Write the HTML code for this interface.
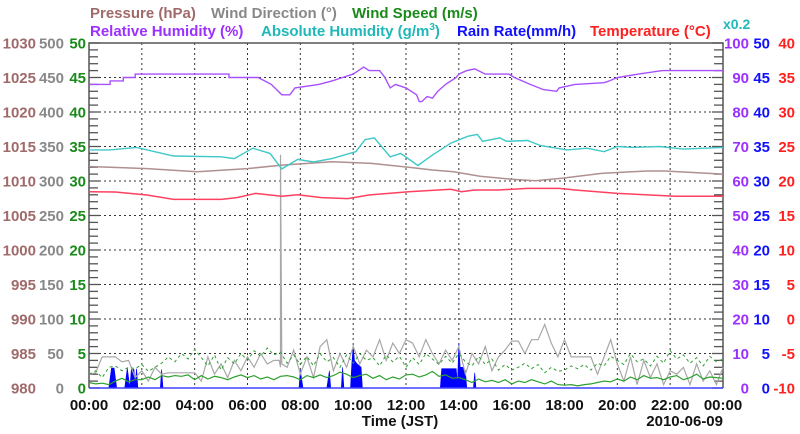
<!DOCTYPE html>
<html><head><meta charset="utf-8"><style>
html,body{margin:0;padding:0;background:#fff;}
svg{display:block;font-family:"Liberation Sans",Arial,sans-serif;font-weight:bold;}
</style></head><body>
<svg id="chart" width="800" height="434" viewBox="0 0 800 434" xmlns="http://www.w3.org/2000/svg">
<g id="legend" font-size="15">
<text x="90" y="18" fill="#a06a6a">Pressure (hPa)</text>
<text x="211" y="18" fill="#888">Wind Direction (°)</text>
<text x="352" y="18" fill="#1a8a1a">Wind Speed (m/s)</text>
<text x="90" y="36" fill="#9b30ff">Relative Humidity (%)</text>
<text x="261" y="36" fill="#20b8b8">Absolute Humidity (g/m<tspan font-size="10" dy="-6">3</tspan><tspan dy="6">)</tspan></text>
<text x="457" y="36" fill="#1010ff">Rain Rate(mm/h)</text>
<text x="590" y="36" fill="#ff2020">Temperature (°C)</text>
<text x="723" y="29" fill="#20b8b8" font-size="14">x0.2</text>
</g>
<g id="grid"></g>
<g id="axes"></g>
<g id="series"></g>
<text x="400" y="426" text-anchor="middle" font-size="15" fill="#111">Time (JST)</text>
<text x="723" y="426" text-anchor="end" font-size="15" fill="#111">2010-06-09</text>
</svg>
<script>
// ---- data ----
const xTickLabels = ["00:00","02:00","04:00","06:00","08:00","10:00","12:00","14:00","16:00","18:00","20:00","22:00","00:00"];
const pressureTicks = ["980","985","990","995","1000","1005","1010","1015","1020","1025","1030"];
const windDirTicks = ["0","50","100","150","200","250","300","350","400","450","500"];
const windSpdTicks = ["0","5","10","15","20","25","30","35","40","45","50"];
const rhTicks = ["0","10","20","30","40","50","60","70","80","90","100"];
const rainTicks = ["0","5","10","15","20","25","30","35","40","45","50"];
const tempTicks = ["-10","-5","0","5","10","15","20","25","30","35","40"];

const rhT = [0,0.8,0.8,1.3,1.3,1.75,1.75,5.3,5.3,6.4,6.9,7.3,7.6,7.8,8.7,9.2,9.6,10,10.4,10.6,11,11.2,11.4,11.6,12,12.4,12.5,12.6,12.8,13,13.2,13.5,13.9,14,14.3,14.6,15,15.9,16.1,16.7,17.2,17.7,17.8,18.4,19.5,19.7,20,20.8,21.7,24];
const rhV = [88,88,89,89,90,90,91,91,90,90,88,85,85,87,88,89,90,91,93,92,92,90,87,88,87,85,83,83,84.5,84,86,88,90,91,92,92.5,91,91,90,88,86.5,86,87,88,88.5,89,90,91,92,92];

const ahT = [0,0.8,1.8,3.2,5,5.5,6.2,6.85,7.3,7.9,8.5,9.2,10.1,10.45,10.8,11.4,11.8,12.45,13,13.7,14.35,14.7,14.9,15.55,15.8,16.6,17.1,18.1,18.85,19.5,20,20.6,21.6,22.5,24];
const ahV = [13.8,13.8,13.95,13.45,13.4,13.3,13.9,13.6,12.7,13.25,13.1,13.3,13.7,14.4,14.5,13.4,13.6,12.9,13.5,14.2,14.6,14.7,14.3,14.5,14.3,14.35,14.05,13.8,13.9,13.7,14.0,13.95,14.0,13.85,13.95];

const prT = [0,2.2,4.1,6,7.3,9.2,10.7,12.1,13,13.8,14.8,16,16.9,17.9,19.4,21.1,21.8,24];
const prV = [1012.1,1011.8,1011.35,1011.8,1012.3,1012.8,1012.55,1012.0,1011.6,1011.35,1010.7,1010.25,1010.05,1010.4,1011.1,1011.45,1011.45,1011.0];

const tpT = [0,1,2.2,3.2,5,5.6,6.3,7.3,7.9,8.8,9.8,10.6,12.1,13.7,14.1,14.6,15.5,16.6,17.8,18.4,20,22.2,24];
const tpV = [18.45,18.4,17.97,17.34,17.34,17.6,18.2,17.8,18.0,17.6,17.45,17.97,18.45,18.8,18.45,18.7,18.7,18.93,18.93,18.7,18.2,17.8,17.8];

// wind direction, 15-min steps
const wdV = [20,22,45,45,45,38,40,15,25,10,30,20,22,22,22,22,22,10,45,20,35,15,40,25,45,30,50,35,40,30,30,55,20,45,15,60,70,25,50,30,60,35,55,45,70,40,65,50,70,65,45,70,50,35,55,40,60,20,50,35,60,25,45,55,68,68,50,70,70,92,65,45,70,45,45,45,45,20,45,70,35,10,45,5,40,15,35,5,25,20,30,5,35,10,25,5,30];
// brief wind direction spike
const wdSpikeT = [7.2,7.25,7.3];
const wdSpikeV = [40,338,35];
// wind gust (dashed), 15-min steps
const wgV = [2,2.5,1.5,3,3.2,2.5,3,2.8,3.4,2.4,3,3.6,4.5,3.8,5,4.2,5.6,4.4,3.2,4.8,2.6,4.4,3.5,5,4,5.4,4.6,5.8,4.8,5.2,3.6,4.8,3.4,4.6,3.2,5,3.8,4.4,3,4.8,3.6,5,4,4.4,3.2,4.8,3.8,4.6,3,4.4,3.4,5,4.2,3.4,4.6,3.6,5,3.8,3.2,4.6,3.4,4.2,2.6,3.4,2.6,3,3.6,2.8,3.4,2.2,3,2.4,2.6,3.2,2.8,3.4,2.6,3.6,3.2,4.6,4,3.4,5,3.8,4.2,3.2,4.6,3.6,5.4,4.2,4.8,3.6,4.4,3.2,4.6,3.8,4.2];
// wind speed mean (solid), 15-min steps
const wsV = [0.8,0.6,0.7,0.5,1,1.4,0.9,1.2,1.2,1.6,1.2,1.8,1.6,1.8,1.7,1.9,1.2,1.8,1.3,1.7,1.5,1.2,1.6,1.9,1.5,1.8,1.3,1.6,1.2,1.7,1.8,1.6,1.2,1.8,1.5,1.9,1.5,1.8,2.3,2.0,1.5,1.8,2.0,1.4,1.8,1.2,1.6,1.3,1.9,2.0,1.6,1.9,2.4,1.7,1.9,1.4,1.5,1.2,0.8,1.3,0.9,1.1,0.8,1.2,0.6,1.0,0.8,1.2,0.9,0.6,1.0,0.5,0.4,0.5,0.3,0.5,0.6,0.8,1.0,0.9,1.3,1.0,1.6,1.2,1.8,1.4,1.5,1.2,1.6,1.8,1.2,1.5,2.0,1.3,1.6,1.5,1.4];

const rainT = [0,0.75,0.85,0.95,1.05,1.35,1.45,1.55,1.6,1.7,1.75,1.8,1.85,2.7,2.75,2.8,7.95,8.0,8.1,9.0,9.1,9.15,9.55,9.6,9.65,9.9,9.95,10.0,10.05,10.15,10.3,10.35,13.3,13.35,13.9,13.95,14.0,14.05,14.15,14.25,14.3,14.55,14.6,14.65,24];
const rainV = [0,0,2.9,2.9,0,0,2.9,0,2.7,2.7,0.8,2.8,0,0,2.7,0,0,2.6,0,0,2.5,0,0,3.0,0,0,3.5,6.2,4.0,3.5,3.0,0,0,2.8,2.8,0.5,6.5,3,3,2.5,0,0,2.2,0,0];

// ---- scales ----
const X0=89, X1=723, Y0=388, Y1=43;
const xs = h => X0 + (X1-X0)*h/24;
const lin = (lo,hi) => v => Y0 - (Y0-Y1)*(v-lo)/(hi-lo);
const yPr = lin(980,1030), yWD = lin(0,500), yWS = lin(0,50), yRH = lin(0,100), yAH = lin(0,20), yRain = lin(0,50), yT = lin(-10,40);
const NS="http://www.w3.org/2000/svg";
function mk(tag, attrs, parent){const e=document.createElementNS(NS,tag);for(const k in attrs)e.setAttribute(k,attrs[k]);parent.appendChild(e);return e;}
const grid=document.getElementById('grid'), axes=document.getElementById('axes'), ser=document.getElementById('series');

for(let i=1;i<12;i++){const l=mk('line',{x1:xs(i*2),x2:xs(i*2),y1:Y1,y2:Y0,stroke:'#333','stroke-width':1,'stroke-dasharray':'2,3'},grid);

}
for(let i=1;i<10;i++){const y=Y0-(Y0-Y1)*i/10;const l=mk('line',{x1:X0,x2:X1,y1:y,y2:y,stroke:'#333','stroke-width':1,'stroke-dasharray':'2,3'},grid);

}
for(let i=0;i<=50;i++){const y=Y0-(Y0-Y1)*i/50;const len=i%5===0?11:9;
const a=mk('line',{x1:X0,x2:X0+len,y1:y,y2:y,stroke:'#555','stroke-width':1.3},axes);


const b=mk('line',{x1:X1-len,x2:X1,y1:y,y2:y,stroke:'#555','stroke-width':1.3},axes);

}
const frame=mk('path',{d:`M${X0},${Y0}V${Y1}H${X1}V${Y0}`,fill:'none',stroke:'#555','stroke-width':1.5},axes);


function col(ticks,x,anchor,color,name){ticks.forEach((t,i)=>{const y=Y0-(Y0-Y1)*i/10+5.5;const e=mk('text',{x:x,y:y,'text-anchor':anchor,fill:color,'font-size':15},axes);e.textContent=t;

});}
col(pressureTicks,36,'end','#a06a6a','pressure-tick-label');
col(windDirTicks,64,'end','#888','wind-direction-tick-label');
col(windSpdTicks,86,'end','#1a8a1a','wind-speed-tick-label');
col(rhTicks,749,'end','#9b30ff','humidity-tick-label');
col(rainTicks,770,'end','#1010ff','rain-tick-label');
col(tempTicks,795,'end','#ff2020','temperature-tick-label');
xTickLabels.forEach((t,i)=>{const e=mk('text',{x:xs(i*2),y:410,'text-anchor':'middle',fill:'#111','font-size':15},axes);e.textContent=t;

});

function line(T,V,ys,stroke,w,name,dash){const d=T.map((t,i)=>(i?'L':'M')+xs(t).toFixed(1)+','+ys(V[i]).toFixed(1)).join('');
const p=mk('path',{d:d,fill:'none',stroke:stroke,'stroke-width':w},ser);if(dash)p.setAttribute('stroke-dasharray',dash);

}
const stepT = wdV.map((_,i)=>i*0.25);
// merge wind direction with spike
const wdPts = stepT.map((t,i)=>[t,wdV[i]]).concat(wdSpikeT.map((t,i)=>[t,wdSpikeV[i]])).sort((a,b)=>a[0]-b[0]);
const wdT2 = wdPts.map(p=>p[0]), wdV2 = wdPts.map(p=>p[1]);
{let d='M'+xs(rainT[0])+','+yRain(0);rainT.forEach((t,i)=>{d+='L'+xs(t).toFixed(1)+','+yRain(rainV[i]).toFixed(1);});d+='L'+xs(24)+','+yRain(0)+'Z';
const p=mk('path',{d:d,fill:'#0000ff',stroke:'#0000ff','stroke-width':0.6},ser);

}
line(wdT2,wdV2,yWD,'#a8a8a8',1.2,'wind-direction-line');
line(stepT,wgV,yWS,'#2ea02e',1,'wind-gust-line','3,3');
line(stepT,wsV,yWS,'#2ea02e',1.2,'wind-speed-line');
line(prT,prV,yPr,'#b09090',1.5,'pressure-line');
line(ahT,ahV,yAH,'#40c8c8',1.4,'absolute-humidity-line');
line(tpT,tpV,yT,'#ff4060',1.5,'temperature-line');
line(rhT,rhV,yRH,'#a850ff',1.4,'relative-humidity-line');
const base=mk('line',{x1:X0,x2:X1,y1:Y0,y2:Y0,stroke:'#4040ff','stroke-width':1.5},ser);


</script>
</body></html>
